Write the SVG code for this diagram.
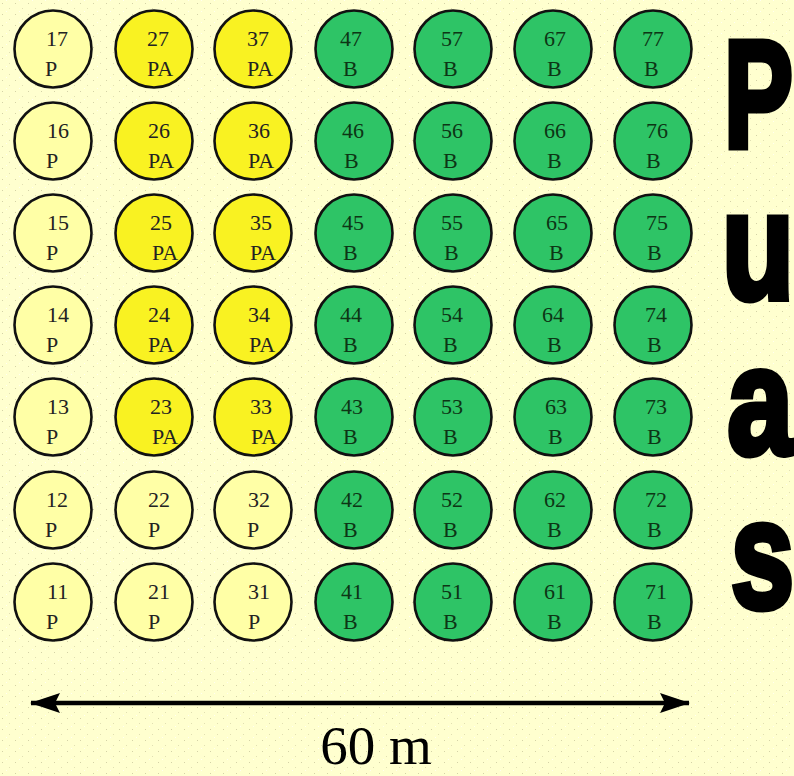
<svg xmlns="http://www.w3.org/2000/svg" width="794" height="776" viewBox="0 0 794 776">
<style>
.p{fill:#FFFFA6;stroke:#111;stroke-width:2.6}
.pa{fill:#F9F222;stroke:#111;stroke-width:2.6}
.b{fill:#2EC466;stroke:#111;stroke-width:2.6}
text.t{font-family:"Liberation Serif","Times New Roman",serif;font-size:22px;fill:#222}
g.g text.t{fill:#0d3515}
.big{font-family:"Liberation Sans",Arial,sans-serif;font-weight:bold;font-size:153px;fill:#000;stroke:#000;stroke-width:7;stroke-linejoin:miter}
.dim{font-family:"Liberation Serif","Times New Roman",serif;font-size:55px;fill:#000}
</style>
<defs>
<pattern id="spk" width="13" height="11" patternUnits="userSpaceOnUse">
<rect x="2" y="3" width="1" height="1" fill="#b8b48a" opacity="0.6"/>
<rect x="9" y="8" width="1" height="1" fill="#c4c096" opacity="0.5"/>
<rect x="6" y="0" width="1" height="1" fill="#ffffff" opacity="0.7"/>
</pattern>
<marker id="ah" viewBox="0 0 30 20" refX="29" refY="10" markerWidth="30" markerHeight="20" markerUnits="userSpaceOnUse" orient="auto-start-reverse">
<path d="M0,0 L30,10 L0,20 L5,10 Z" fill="#000"/>
</marker>
</defs>
<rect width="794" height="776" fill="#FFFFCF"/>
<rect width="794" height="776" fill="url(#spk)"/>

<g id="n17"><circle class="p" cx="53" cy="49" r="38.5"/><text class="t" x="46" y="46">17</text><text class="t" x="45" y="76">P</text></g>
<g id="n16"><circle class="p" cx="53" cy="141" r="38.5"/><text class="t" x="47" y="138">16</text><text class="t" x="46" y="168">P</text></g>
<g id="n15"><circle class="p" cx="53" cy="233" r="38.5"/><text class="t" x="47" y="230">15</text><text class="t" x="46" y="260">P</text></g>
<g id="n14"><circle class="p" cx="53" cy="325" r="38.5"/><text class="t" x="47" y="322">14</text><text class="t" x="46" y="352">P</text></g>
<g id="n13"><circle class="p" cx="53" cy="417" r="38.5"/><text class="t" x="47" y="414">13</text><text class="t" x="46" y="444">P</text></g>
<g id="n12"><circle class="p" cx="53" cy="510" r="38.5"/><text class="t" x="46" y="507">12</text><text class="t" x="45" y="537">P</text></g>
<g id="n11"><circle class="p" cx="53" cy="602" r="38.5"/><text class="t" x="47" y="599">11</text><text class="t" x="46" y="629">P</text></g>

<g id="n27"><circle class="pa" cx="154" cy="49" r="38.5"/><text class="t" x="147" y="46">27</text><text class="t" x="147" y="76">PA</text></g>
<g id="n26"><circle class="pa" cx="154" cy="141" r="38.5"/><text class="t" x="148" y="138">26</text><text class="t" x="148" y="168">PA</text></g>
<g id="n25"><circle class="pa" cx="154" cy="233" r="38.5"/><text class="t" x="150" y="230">25</text><text class="t" x="152" y="260">PA</text></g>
<g id="n24"><circle class="pa" cx="154" cy="325" r="38.5"/><text class="t" x="148" y="322">24</text><text class="t" x="148" y="352">PA</text></g>
<g id="n23"><circle class="pa" cx="154" cy="417" r="38.5"/><text class="t" x="150" y="414">23</text><text class="t" x="152" y="444">PA</text></g>
<g id="n22"><circle class="p" cx="154" cy="510" r="38.5"/><text class="t" x="148" y="507">22</text><text class="t" x="148" y="537">P</text></g>
<g id="n21"><circle class="p" cx="154" cy="602" r="38.5"/><text class="t" x="148" y="599">21</text><text class="t" x="148" y="629">P</text></g>

<g id="n37"><circle class="pa" cx="253" cy="49" r="38.5"/><text class="t" x="247" y="46">37</text><text class="t" x="247" y="76">PA</text></g>
<g id="n36"><circle class="pa" cx="253" cy="141" r="38.5"/><text class="t" x="248" y="138">36</text><text class="t" x="248" y="168">PA</text></g>
<g id="n35"><circle class="pa" cx="253" cy="233" r="38.5"/><text class="t" x="250" y="230">35</text><text class="t" x="250" y="260">PA</text></g>
<g id="n34"><circle class="pa" cx="253" cy="325" r="38.5"/><text class="t" x="248" y="322">34</text><text class="t" x="249" y="352">PA</text></g>
<g id="n33"><circle class="pa" cx="253" cy="417" r="38.5"/><text class="t" x="250" y="414">33</text><text class="t" x="251" y="444">PA</text></g>
<g id="n32"><circle class="p" cx="253" cy="510" r="38.5"/><text class="t" x="248" y="507">32</text><text class="t" x="247" y="537">P</text></g>
<g id="n31"><circle class="p" cx="253" cy="602" r="38.5"/><text class="t" x="248" y="599">31</text><text class="t" x="248" y="629">P</text></g>

<g class="g">
<g id="n47"><circle class="b" cx="354" cy="49" r="38.5"/><text class="t" x="340" y="46">47</text><text class="t" x="343" y="76">B</text></g>
<g id="n46"><circle class="b" cx="354" cy="141" r="38.5"/><text class="t" x="342" y="138">46</text><text class="t" x="344" y="168">B</text></g>
<g id="n45"><circle class="b" cx="354" cy="233" r="38.5"/><text class="t" x="342" y="230">45</text><text class="t" x="343" y="260">B</text></g>
<g id="n44"><circle class="b" cx="354" cy="325" r="38.5"/><text class="t" x="340" y="322">44</text><text class="t" x="343" y="352">B</text></g>
<g id="n43"><circle class="b" cx="354" cy="417" r="38.5"/><text class="t" x="341" y="414">43</text><text class="t" x="343" y="444">B</text></g>
<g id="n42"><circle class="b" cx="354" cy="510" r="38.5"/><text class="t" x="341" y="507">42</text><text class="t" x="343" y="537">B</text></g>
<g id="n41"><circle class="b" cx="354" cy="602" r="38.5"/><text class="t" x="341" y="599">41</text><text class="t" x="343" y="629">B</text></g>

<g id="n57"><circle class="b" cx="453" cy="49" r="38.5"/><text class="t" x="441" y="46">57</text><text class="t" x="443" y="76">B</text></g>
<g id="n56"><circle class="b" cx="453" cy="141" r="38.5"/><text class="t" x="441" y="138">56</text><text class="t" x="443" y="168">B</text></g>
<g id="n55"><circle class="b" cx="453" cy="233" r="38.5"/><text class="t" x="441" y="230">55</text><text class="t" x="444" y="260">B</text></g>
<g id="n54"><circle class="b" cx="453" cy="325" r="38.5"/><text class="t" x="441" y="322">54</text><text class="t" x="443" y="352">B</text></g>
<g id="n53"><circle class="b" cx="453" cy="417" r="38.5"/><text class="t" x="441" y="414">53</text><text class="t" x="443" y="444">B</text></g>
<g id="n52"><circle class="b" cx="453" cy="510" r="38.5"/><text class="t" x="441" y="507">52</text><text class="t" x="443" y="537">B</text></g>
<g id="n51"><circle class="b" cx="453" cy="602" r="38.5"/><text class="t" x="441" y="599">51</text><text class="t" x="443" y="629">B</text></g>

<g id="n67"><circle class="b" cx="553" cy="49" r="38.5"/><text class="t" x="544" y="46">67</text><text class="t" x="547" y="76">B</text></g>
<g id="n66"><circle class="b" cx="553" cy="141" r="38.5"/><text class="t" x="544" y="138">66</text><text class="t" x="547" y="168">B</text></g>
<g id="n65"><circle class="b" cx="553" cy="233" r="38.5"/><text class="t" x="546" y="230">65</text><text class="t" x="549" y="260">B</text></g>
<g id="n64"><circle class="b" cx="553" cy="325" r="38.5"/><text class="t" x="542" y="322">64</text><text class="t" x="547" y="352">B</text></g>
<g id="n63"><circle class="b" cx="553" cy="417" r="38.5"/><text class="t" x="545" y="414">63</text><text class="t" x="548" y="444">B</text></g>
<g id="n62"><circle class="b" cx="553" cy="510" r="38.5"/><text class="t" x="544" y="507">62</text><text class="t" x="547" y="537">B</text></g>
<g id="n61"><circle class="b" cx="553" cy="602" r="38.5"/><text class="t" x="544" y="599">61</text><text class="t" x="547" y="629">B</text></g>

<g id="n77"><circle class="b" cx="653" cy="49" r="38.5"/><text class="t" x="642" y="46">77</text><text class="t" x="644" y="76">B</text></g>
<g id="n76"><circle class="b" cx="653" cy="141" r="38.5"/><text class="t" x="646" y="138">76</text><text class="t" x="646" y="168">B</text></g>
<g id="n75"><circle class="b" cx="653" cy="233" r="38.5"/><text class="t" x="646" y="230">75</text><text class="t" x="647" y="260">B</text></g>
<g id="n74"><circle class="b" cx="653" cy="325" r="38.5"/><text class="t" x="645" y="322">74</text><text class="t" x="647" y="352">B</text></g>
<g id="n73"><circle class="b" cx="653" cy="417" r="38.5"/><text class="t" x="645" y="414">73</text><text class="t" x="647" y="444">B</text></g>
<g id="n72"><circle class="b" cx="653" cy="510" r="38.5"/><text class="t" x="645" y="507">72</text><text class="t" x="647" y="537">B</text></g>
<g id="n71"><circle class="b" cx="653" cy="602" r="38.5"/><text class="t" x="645" y="599">71</text><text class="t" x="647" y="629">B</text></g>
</g>

<g id="title">
<text class="big" transform="translate(724,146.5) scale(0.675,1)">P</text>
<text class="big" transform="translate(722,298.5) scale(0.77,1)">u</text>
<text class="big" transform="translate(727.5,454) scale(0.77,1)">a</text>
<text class="big" transform="translate(731,608) scale(0.74,1)">s</text>
</g>

<g id="connectors">
<line x1="31" y1="703" x2="689" y2="703" stroke="#000" stroke-width="4.5" marker-start="url(#ah)" marker-end="url(#ah)"/>
</g>
<text class="dim" x="376" y="764" text-anchor="middle">60 m</text>
</svg>
